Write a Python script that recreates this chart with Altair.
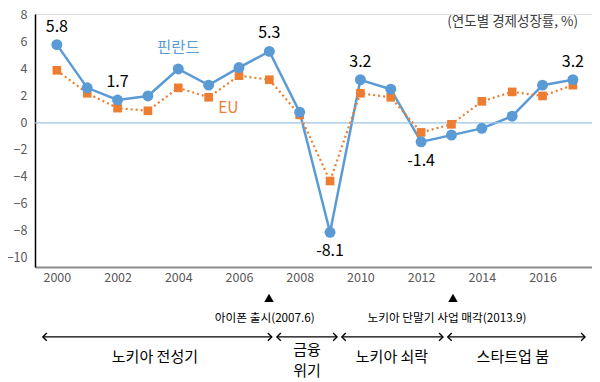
import altair as alt
import pandas as pd

years = list(range(2000, 2018))
finland = [5.8, 2.6, 1.7, 2.0, 4.0, 2.8, 4.1, 5.3, 0.8, -8.1, 3.2, 2.5, -1.4, -0.9, -0.4, 0.5, 2.8, 3.2]
eu = [3.9, 2.2, 1.1, 0.9, 2.6, 1.9, 3.5, 3.2, 0.6, -4.3, 2.2, 1.9, -0.7, -0.1, 1.6, 2.3, 2.0, 2.8]

label_years = [2000, 2002, 2007, 2009, 2010, 2012, 2017]
label_text = ["5.8", "1.7", "5.3", "-8.1", "3.2", "-1.4", "3.2"]
label_below = [False, False, False, True, False, True, False]

y_ticks = list(range(-10, 9, 2))
x_ticks = list(range(2000, 2017, 2))

# annotation rows below the plot (year position, value position)
event_years = [2006.99, 2013.05]
event_text = ["아이폰 출시(2007.6)", "노키아 단말기 사업 매각(2013.9)"]
event_text_x = [2006.85, 2012.85]
period_start = [1999.54, 2007.25, 2009.39, 2012.88]
period_end = [2007.08, 2009.23, 2012.72, 2017.40]
period_text = ["노키아 전성기", "금융", "위기", "노키아 쇠락", "스타트업 붐"]
period_text_x = [2003.23, 2008.24, 2008.24, 2011.04, 2015.02]
period_text_v = [-17.33, -16.8, -18.35, -17.33, -17.33]

BLUE = "#5B9BD5"
ORANGE = "#ED7D31"
FONT = "Noto Sans CJK KR"

xs = alt.Scale(domain=[1999.28, 2017.63], nice=False, zero=False)
ys = alt.Scale(domain=[-10.67, 8.07], nice=False, zero=False)

XAX = alt.Axis(values=x_ticks, format="d", ticks=False,
               labelColor="#595959", labelFontSize=12.5, labelFont=FONT,
               labelOverlap=False,
               domainColor="#8c8c8c", domainWidth=2, labelPadding=4, grid=False)
YAX = alt.Axis(values=y_ticks, ticks=False, grid=False,
               labelOverlap=False, labelBound=False,
               labelColor="#595959", labelFontSize=12.5, labelFont=FONT,
               domainColor="#000000", domainWidth=1.5, labelPadding=8)


def X(field):
    return alt.X(field, scale=xs, axis=XAX, title=None)


def Y(field):
    return alt.Y(field, scale=ys, axis=YAX, title=None)


df = pd.DataFrame({"year": years, "fin": finland, "eu": eu})
base = alt.Chart(df)

fin_line = base.mark_line(color=BLUE, strokeWidth=2.5).encode(x=X("year:Q"), y=Y("fin:Q"))

zero = alt.Chart(pd.DataFrame({"z": [0]})).mark_rule(color="#9DC3E6", strokeWidth=1.2).encode(
    y=Y("z:Q"))

eu_line = base.mark_line(color=ORANGE, strokeWidth=2.2, strokeDash=[2, 3]).encode(
    x=X("year:Q"), y=Y("eu:Q"))
eu_pts = base.mark_point(shape="square", filled=True, color=ORANGE, size=75, opacity=1).encode(
    x=X("year:Q"), y=Y("eu:Q"))

fin_pts = base.mark_point(shape="circle", filled=True, color=BLUE, size=120, opacity=1).encode(
    x=X("year:Q"), y=Y("fin:Q"))

lab = pd.DataFrame({"year": label_years, "t": label_text,
                    "v": [finland[years.index(y)] for y in label_years],
                    "below": label_below})
lab_above = alt.Chart(lab[~lab.below]).mark_text(
    font=FONT, fontSize=16, color="#000000", dy=-18).encode(
    x=X("year:Q"), y=Y("v:Q"), text="t:N")
lab_below = alt.Chart(lab[lab.below]).mark_text(
    font=FONT, fontSize=16, color="#000000", dy=19).encode(
    x=X("year:Q"), y=Y("v:Q"), text="t:N")

series_lab = alt.Chart(pd.DataFrame({"year": [2004.0, 2005.65], "v": [5.55, 1.1],
                                     "t": ["핀란드", "EU"], "c": [BLUE, ORANGE]})).mark_text(
    font=FONT, fontSize=15.5).encode(
    x=X("year:Q"), y=Y("v:Q"), text="t:N",
    color=alt.Color("c:N", scale=None))

unit_lab = alt.Chart(pd.DataFrame({"year": [2017.17], "v": [7.48], "t": ["(연도별 경제성장률, %)"]})).mark_text(
    font=FONT, fontSize=13.5, color="#404040", align="right").encode(
    x=X("year:Q"), y=Y("v:Q"), text="t:N")

ev = pd.DataFrame({"year": event_years, "tx": event_text_x, "t": event_text,
                   "vt": [-12.96] * 2, "vl": [-14.44] * 2})
ev_tri = alt.Chart(ev).mark_point(shape="triangle-up", filled=True, color="#000000", size=90, opacity=1).encode(
    x=X("year:Q"), y=Y("vt:Q"))
ev_txt = alt.Chart(ev).mark_text(font=FONT, fontSize=11.7, color="#000000").encode(
    x=X("tx:Q"), y=Y("vl:Q"), text="t:N")

per = pd.DataFrame({"s": period_start, "e": period_end, "v": [-15.85] * 4})
per_rule = alt.Chart(per).mark_rule(color="#000000", strokeWidth=1.3).encode(
    x=X("s:Q"), x2="e:Q", y=Y("v:Q"))
right_head = alt.Chart(per).mark_point(shape="M -1 -1 L 0 0 L -1 1", filled=False, color="#000000",
                                      size=60, strokeWidth=1.4, opacity=1).encode(
    x=X("e:Q"), y=Y("v:Q"))
left_head = alt.Chart(per).mark_point(shape="M 1 -1 L 0 0 L 1 1", filled=False, color="#000000",
                                     size=60, strokeWidth=1.4, opacity=1).encode(
    x=X("s:Q"), y=Y("v:Q"))
pt = pd.DataFrame({"tx": period_text_x, "vt": period_text_v, "t": period_text})
per_txt = alt.Chart(pt).mark_text(font=FONT, fontSize=15, color="#000000").encode(
    x=X("tx:Q"), y=Y("vt:Q"), text="t:N")

chart = alt.layer(
    fin_line, zero, eu_line, eu_pts, fin_pts, lab_above, lab_below, series_lab, unit_lab,
    ev_tri, ev_txt, per_rule, right_head, left_head, per_txt
).properties(
    width=557, height=253,
    autosize=alt.AutoSizeParams(type="none"),
    padding={"left": 27, "top": 6, "right": 0, "bottom": 115},
).configure_view(stroke=None).configure_axis(labelOverlap=False).configure(background="white")

chart.save("out.html", embed_options={"renderer": "svg", "actions": False})
